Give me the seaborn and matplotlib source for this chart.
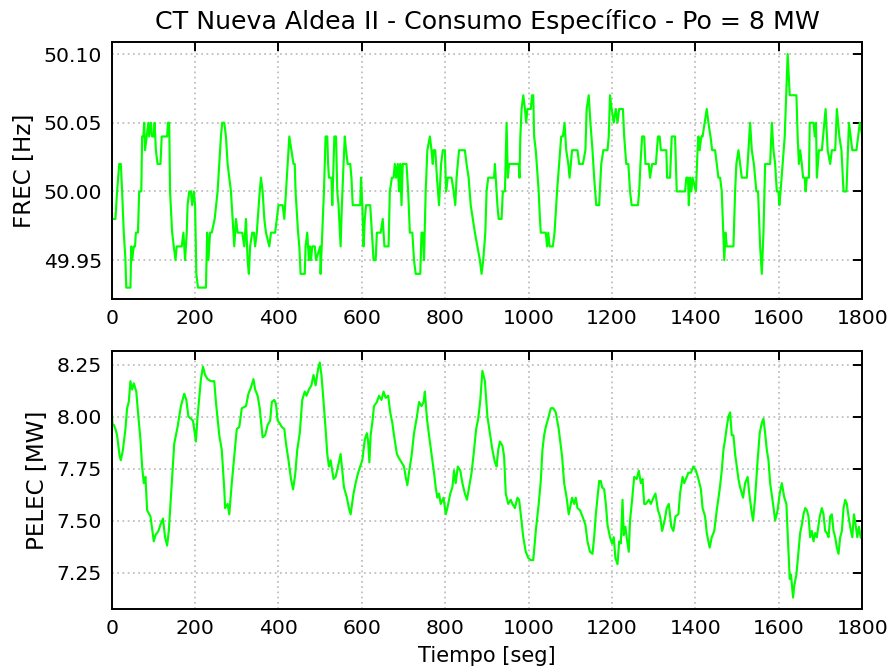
import matplotlib
matplotlib.use("Agg")
import matplotlib.pyplot as plt
import matplotlib.ticker as mticker
import seaborn as sns
import pandas as pd

# ---- Data ----
freq_t = [0, 9, 13, 18, 22, 25, 29, 33, 35, 45, 47, 49, 53, 56, 58, 63, 66, 71, 73, 76,
          78, 80, 84, 88, 90, 94, 97, 101, 103, 106, 110, 117, 120, 133, 135, 138, 140, 145, 149, 153,
          156, 168, 172, 176, 180, 182, 186, 190, 193, 197, 200, 203, 207, 226, 229, 232, 236, 240, 247, 254,
          258, 262, 265, 270, 274, 278, 286, 290, 294, 298, 302, 313, 318, 322, 326, 329, 332, 337, 341, 344,
          348, 355, 358, 362, 366, 370, 378, 382, 392, 396, 400, 410, 414, 418, 422, 426, 431, 436, 439, 441,
          447, 450, 453, 463, 465, 469, 473, 475, 478, 481, 487, 490, 500, 501, 505, 509, 513, 517, 519, 521,
          527, 529, 531, 534, 538, 541, 544, 549, 552, 556, 559, 562, 566, 572, 575, 578, 596, 598, 601, 604,
          607, 610, 620, 624, 628, 633, 636, 645, 650, 654, 664, 667, 672, 676, 679, 682, 686, 689, 692, 695,
          698, 707, 711, 715, 721, 725, 729, 740, 743, 746, 749, 753, 757, 763, 767, 770, 772, 776, 780, 785,
          790, 794, 799, 802, 806, 815, 820, 824, 827, 833, 847, 851, 856, 861, 866, 871, 877, 883, 887, 891,
          896, 899, 903, 917, 919, 921, 925, 928, 935, 938, 943, 947, 950, 953, 976, 978, 980, 983, 987, 991,
          994, 997, 1005, 1008, 1011, 1013, 1017, 1024, 1027, 1029, 1041, 1044, 1047, 1050, 1058, 1062, 1068, 1073, 1078, 1082,
          1086, 1090, 1095, 1098, 1101, 1104, 1117, 1121, 1130, 1136, 1139, 1144, 1148, 1153, 1157, 1162, 1169, 1174, 1179, 1189,
          1192, 1195, 1199, 1204, 1209, 1213, 1217, 1226, 1229, 1234, 1239, 1243, 1247, 1262, 1265, 1268, 1272, 1277, 1280, 1288,
          1291, 1296, 1305, 1310, 1314, 1317, 1330, 1332, 1339, 1343, 1351, 1355, 1375, 1378, 1382, 1384, 1387, 1390, 1393, 1401,
          1405, 1407, 1410, 1414, 1417, 1422, 1427, 1431, 1436, 1440, 1447, 1451, 1455, 1459, 1463, 1469, 1472, 1475, 1491, 1495,
          1498, 1503, 1507, 1511, 1523, 1527, 1531, 1535, 1540, 1546, 1550, 1555, 1559, 1563, 1567, 1579, 1583, 1587, 1591, 1595,
          1599, 1601, 1604, 1609, 1614, 1621, 1626, 1631, 1642, 1645, 1648, 1651, 1655, 1658, 1662, 1664, 1667, 1672, 1674, 1683,
          1686, 1689, 1691, 1696, 1703, 1709, 1712, 1717, 1723, 1727, 1735, 1739, 1745, 1750, 1755, 1762, 1768, 1772, 1776, 1786,
          1790, 1794, 1800]
freq_v = [49.98, 49.98, 50.00, 50.02, 50.02, 50.00, 49.97, 49.95, 49.93, 49.93, 49.96, 49.95, 49.96, 49.96, 49.97, 49.97, 50.00, 50.00, 50.04, 50.04,
          50.05, 50.03, 50.04, 50.05, 50.04, 50.05, 50.04, 50.04, 50.05, 50.03, 50.02, 50.02, 50.04, 50.04, 50.05, 50.05, 50.00, 49.97, 49.96, 49.95,
          49.96, 49.96, 49.97, 49.95, 49.97, 49.99, 50.00, 50.00, 49.99, 50.00, 49.99, 49.94, 49.93, 49.93, 49.97, 49.95, 49.97, 49.97, 49.98, 50.00,
          50.02, 50.04, 50.05, 50.05, 50.04, 50.02, 50.00, 49.98, 49.96, 49.98, 49.97, 49.97, 49.96, 49.98, 49.95, 49.94, 49.96, 49.97, 49.97, 49.96,
          49.97, 50.00, 50.01, 50.00, 49.98, 49.97, 49.96, 49.97, 49.97, 49.98, 49.99, 49.99, 49.98, 50.00, 50.02, 50.04, 50.03, 50.02, 50.02, 50.00,
          49.97, 49.96, 49.94, 49.94, 49.96, 49.97, 49.95, 49.96, 49.95, 49.96, 49.96, 49.95, 49.96, 49.94, 49.97, 50.00, 50.04, 50.04, 50.02, 50.01,
          50.01, 49.99, 50.01, 50.04, 50.04, 50.00, 49.99, 49.96, 49.99, 50.02, 50.04, 50.03, 50.02, 50.02, 50.01, 49.99, 49.99, 50.01, 49.99, 49.96,
          49.98, 49.99, 49.99, 49.97, 49.95, 49.95, 49.97, 49.97, 49.98, 49.96, 49.96, 50.00, 50.01, 50.01, 50.02, 50.01, 50.02, 50.00, 50.02, 49.99,
          50.02, 50.02, 50.00, 49.97, 49.97, 49.95, 49.94, 49.94, 49.97, 49.97, 49.95, 50.00, 50.03, 50.04, 50.03, 50.02, 50.03, 50.03, 50.01, 49.99,
          50.02, 50.03, 50.03, 50.00, 50.01, 50.01, 50.00, 49.99, 50.01, 50.03, 50.03, 50.02, 50.01, 49.99, 49.98, 49.97, 49.96, 49.95, 49.94, 49.95,
          49.97, 50.00, 50.01, 50.01, 50.02, 50.01, 49.99, 49.98, 49.98, 50.00, 50.00, 50.05, 50.01, 50.02, 50.02, 50.01, 50.04, 50.06, 50.07, 50.06,
          50.05, 50.06, 50.06, 50.07, 50.07, 50.04, 50.03, 50.00, 49.98, 49.97, 49.97, 49.96, 49.97, 49.96, 49.96, 49.97, 50.00, 50.02, 50.04, 50.04,
          50.05, 50.03, 50.02, 50.01, 50.02, 50.03, 50.03, 50.02, 50.02, 50.03, 50.06, 50.07, 50.05, 50.03, 50.01, 49.99, 49.99, 50.02, 50.03, 50.03,
          50.04, 50.07, 50.06, 50.05, 50.06, 50.05, 50.06, 50.06, 50.04, 50.02, 50.02, 50.00, 49.99, 49.99, 50.00, 50.02, 50.04, 50.04, 50.02, 50.02,
          50.01, 50.02, 50.02, 50.04, 50.04, 50.03, 50.03, 50.01, 50.01, 50.04, 50.04, 50.00, 50.00, 50.01, 50.01, 49.99, 50.01, 50.00, 50.01, 50.00,
          50.03, 50.04, 50.03, 50.04, 50.04, 50.05, 50.06, 50.05, 50.04, 50.03, 50.03, 50.02, 50.01, 50.01, 50.00, 49.95, 49.97, 49.96, 49.96, 50.00,
          50.02, 50.03, 50.02, 50.01, 50.01, 50.03, 50.05, 50.03, 50.02, 50.00, 50.00, 49.96, 49.94, 49.97, 50.02, 50.02, 50.05, 50.03, 50.02, 50.00,
          50.00, 49.99, 50.00, 50.02, 50.04, 50.10, 50.07, 50.07, 50.07, 50.04, 50.02, 50.03, 50.02, 50.01, 50.01, 50.00, 50.01, 50.01, 50.05, 50.05,
          50.04, 50.05, 50.01, 50.03, 50.03, 50.05, 50.06, 50.03, 50.02, 50.03, 50.03, 50.06, 50.04, 50.03, 50.00, 50.00, 50.05, 50.04, 50.03, 50.03,
          50.04, 50.05, 50.04]

pow_t = [0, 2, 5, 9, 13, 19, 22, 27, 33, 37, 41, 45, 49, 53, 59, 64, 69, 73, 77, 81,
         85, 93, 101, 105, 112, 117, 123, 128, 133, 137, 144, 150, 158, 166, 174, 179, 184, 190, 195, 202,
         206, 214, 219, 224, 230, 238, 246, 250, 258, 264, 270, 272, 278, 282, 288, 294, 300, 306, 312, 322,
         328, 334, 340, 344, 350, 355, 362, 368, 374, 380, 384, 390, 394, 398, 402, 408, 414, 418, 424, 430,
         435, 440, 445, 451, 457, 463, 467, 473, 479, 484, 489, 495, 499, 503, 507, 513, 517, 521, 525, 532,
         537, 545, 549, 553, 557, 564, 569, 573, 580, 585, 591, 596, 601, 607, 612, 615, 618, 621, 625, 629,
         636, 641, 647, 652, 657, 663, 668, 673, 677, 684, 689, 695, 701, 705, 709, 713, 719, 725, 732, 737,
         743, 748, 751, 756, 761, 767, 773, 777, 781, 785, 789, 796, 801, 805, 812, 817, 821, 825, 830, 836,
         841, 847, 852, 857, 863, 868, 874, 879, 884, 889, 895, 901, 907, 913, 919, 923, 927, 931, 937, 941,
         945, 951, 957, 961, 967, 973, 977, 981, 987, 993, 999, 1005, 1011, 1017, 1024, 1029, 1033, 1037, 1041, 1048,
         1053, 1059, 1065, 1072, 1075, 1080, 1085, 1091, 1096, 1099, 1104, 1109, 1113, 1117, 1123, 1129, 1136, 1141, 1147, 1153,
         1157, 1161, 1165, 1169, 1173, 1176, 1181, 1185, 1189, 1195, 1200, 1204, 1208, 1213, 1217, 1221, 1225, 1228, 1232, 1235,
         1240, 1243, 1248, 1253, 1259, 1264, 1269, 1273, 1277, 1281, 1288, 1293, 1299, 1304, 1310, 1315, 1320, 1326, 1331, 1336,
         1342, 1347, 1352, 1359, 1363, 1369, 1373, 1377, 1383, 1389, 1395, 1401, 1407, 1413, 1417, 1423, 1427, 1434, 1439, 1445,
         1451, 1458, 1463, 1467, 1471, 1475, 1479, 1483, 1487, 1491, 1495, 1499, 1503, 1507, 1514, 1519, 1525, 1529, 1534, 1538,
         1543, 1549, 1554, 1559, 1563, 1567, 1571, 1575, 1579, 1586, 1591, 1597, 1602, 1607, 1613, 1618, 1621, 1626, 1629, 1634,
         1637, 1642, 1647, 1651, 1655, 1659, 1663, 1667, 1671, 1675, 1679, 1683, 1687, 1691, 1698, 1703, 1707, 1711, 1715, 1719,
         1723, 1727, 1731, 1735, 1739, 1743, 1747, 1751, 1755, 1759, 1763, 1767, 1771, 1776, 1780, 1784, 1788, 1792, 1796, 1800]
pow_v = [8.04, 7.96, 7.96, 7.94, 7.91, 7.81, 7.79, 7.84, 7.94, 8.04, 8.07, 8.17, 8.13, 8.16, 8.12, 8.00, 7.89, 7.76, 7.68, 7.71,
         7.55, 7.52, 7.40, 7.43, 7.45, 7.48, 7.51, 7.42, 7.38, 7.45, 7.68, 7.87, 7.95, 8.05, 8.11, 8.08, 8.00, 7.99, 7.98, 7.88,
         8.00, 8.18, 8.24, 8.20, 8.18, 8.17, 8.17, 8.07, 7.91, 7.84, 7.65, 7.56, 7.58, 7.53, 7.68, 7.81, 7.94, 7.95, 8.04, 8.05,
         8.11, 8.14, 8.18, 8.13, 8.10, 8.04, 7.90, 7.91, 7.96, 7.98, 8.07, 8.08, 8.06, 7.98, 7.97, 7.95, 7.94, 7.87, 7.79, 7.70,
         7.65, 7.72, 7.84, 7.92, 8.08, 8.12, 8.10, 8.13, 8.15, 8.20, 8.15, 8.23, 8.26, 8.20, 8.10, 7.94, 7.82, 7.76, 7.79, 7.70,
         7.71, 7.78, 7.82, 7.74, 7.66, 7.61, 7.56, 7.53, 7.63, 7.68, 7.73, 7.76, 7.79, 7.89, 7.92, 7.88, 7.78, 7.91, 7.97, 8.05,
         8.07, 8.10, 8.08, 8.12, 8.09, 8.10, 8.02, 7.97, 7.91, 7.82, 7.80, 7.78, 7.76, 7.71, 7.67, 7.73, 7.81, 7.92, 8.00, 8.07,
         8.05, 8.07, 8.12, 7.99, 7.91, 7.82, 7.73, 7.66, 7.61, 7.63, 7.58, 7.61, 7.53, 7.56, 7.63, 7.66, 7.74, 7.68, 7.76, 7.74,
         7.68, 7.63, 7.60, 7.66, 7.73, 7.82, 7.94, 7.99, 8.08, 8.22, 8.17, 8.00, 7.92, 7.84, 7.78, 7.76, 7.84, 7.88, 7.86, 7.81,
         7.63, 7.58, 7.60, 7.58, 7.56, 7.61, 7.60, 7.53, 7.42, 7.35, 7.32, 7.31, 7.31, 7.45, 7.58, 7.69, 7.84, 7.91, 7.95, 8.00,
         8.04, 8.04, 8.02, 7.94, 7.89, 7.81, 7.68, 7.61, 7.53, 7.56, 7.61, 7.58, 7.61, 7.56, 7.55, 7.52, 7.48, 7.40, 7.35, 7.34,
         7.42, 7.53, 7.61, 7.69, 7.69, 7.66, 7.65, 7.58, 7.48, 7.42, 7.39, 7.42, 7.32, 7.29, 7.40, 7.39, 7.60, 7.43, 7.47, 7.42,
         7.35, 7.50, 7.60, 7.71, 7.70, 7.74, 7.68, 7.70, 7.58, 7.58, 7.60, 7.58, 7.61, 7.63, 7.55, 7.52, 7.45, 7.50, 7.56, 7.58,
         7.47, 7.45, 7.52, 7.53, 7.63, 7.71, 7.68, 7.70, 7.73, 7.73, 7.76, 7.74, 7.70, 7.65, 7.56, 7.52, 7.44, 7.37, 7.42, 7.45,
         7.55, 7.65, 7.74, 7.84, 7.89, 7.95, 8.00, 8.02, 7.91, 7.91, 7.82, 7.76, 7.70, 7.66, 7.61, 7.68, 7.71, 7.63, 7.55, 7.50,
         7.61, 7.79, 7.92, 7.97, 7.99, 7.92, 7.84, 7.79, 7.68, 7.58, 7.50, 7.55, 7.63, 7.68, 7.61, 7.58, 7.44, 7.22, 7.24, 7.13,
         7.19, 7.24, 7.35, 7.44, 7.48, 7.53, 7.56, 7.55, 7.52, 7.42, 7.45, 7.40, 7.44, 7.42, 7.52, 7.56, 7.53, 7.45, 7.44, 7.42,
         7.52, 7.53, 7.45, 7.42, 7.37, 7.34, 7.42, 7.45, 7.56, 7.60, 7.58, 7.52, 7.47, 7.42, 7.53, 7.48, 7.42, 7.47, 7.42, 7.41]

xticks = [0, 200, 400, 600, 800, 1000, 1200, 1400, 1600, 1800]
freq_ticks = [49.95, 50.00, 50.05, 50.10]
pow_ticks = [7.25, 7.50, 7.75, 8.00, 8.25]

title = "CT Nueva Aldea II - Consumo Específico - Po = 8 MW"
freq_label = "FREC [Hz]"
pow_label = "PELEC [MW]"
x_label = "Tiempo [seg]"

# ---- Style ----
sns.set_theme(style="white")
plt.rcParams.update({
    "font.family": ["DejaVu Sans"],
    "font.size": 10,
    "axes.edgecolor": "black",
    "axes.linewidth": 1.0,
    "xtick.direction": "in",
    "ytick.direction": "in",
    "xtick.major.size": 4.5,
    "ytick.major.size": 4.5,
    "xtick.major.width": 1.0,
    "ytick.major.width": 1.0,
    "xtick.major.pad": 5,
    "ytick.major.pad": 5,
    "xtick.labelsize": 10.5,
    "ytick.labelsize": 10.5,
    "xtick.color": "black",
    "ytick.color": "black",
    "axes.labelcolor": "black",
    "text.color": "black",
})

fig = plt.figure(figsize=(892 / 140, 672 / 140), dpi=140)
ax1 = fig.add_axes([0.1252, 0.5546, 0.8415, 0.3824])
ax2 = fig.add_axes([0.1252, 0.0933, 0.8415, 0.3848])

df_f = pd.DataFrame({"t": freq_t, "v": freq_v})
df_p = pd.DataFrame({"t": pow_t, "v": pow_v})

line_kw = dict(color="#00ff00", linewidth=1.1, estimator=None, sort=False)
sns.lineplot(data=df_f, x="t", y="v", ax=ax1, **line_kw)
sns.lineplot(data=df_p, x="t", y="v", ax=ax2, **line_kw)

for ax, yt in ((ax1, freq_ticks), (ax2, pow_ticks)):
    ax.set_xlim(0, 1800)
    ax.set_xticks(xticks)
    ax.set_yticks(yt)
    ax.grid(True, linestyle=(0, (1, 2)), color="#bdbdbd", linewidth=0.9)
    ax.tick_params(top=True, right=True, which="major")
    ax.yaxis.set_major_formatter(mticker.FormatStrFormatter("%.2f"))
    for s in ax.spines.values():
        s.set_visible(True)
        s.set_color("black")
        s.set_linewidth(1.0)

ax1.set_xlabel("")
ax1.set_ylabel(freq_label, fontsize=11.8)
ax2.set_ylabel(pow_label, fontsize=11.8)
ax2.set_xlabel(x_label, fontsize=10.8)
ax1.set_title(title, fontsize=13, pad=7)

fig.savefig("out.png", dpi=140)
